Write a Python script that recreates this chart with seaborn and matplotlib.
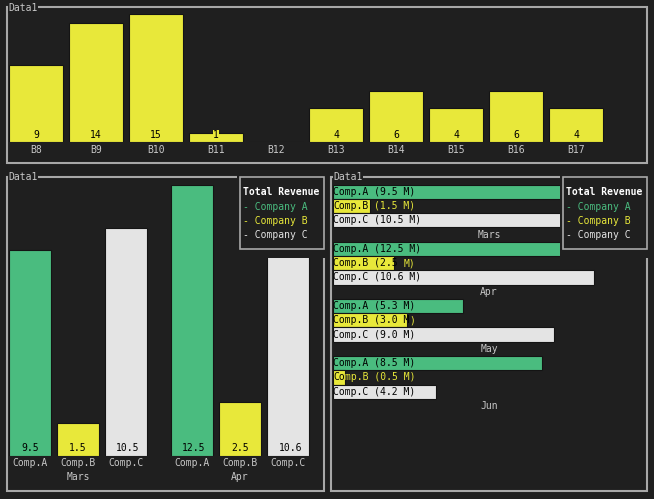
import matplotlib
matplotlib.use("Agg")
import matplotlib.pyplot as plt
import matplotlib.transforms as mtransforms
from matplotlib.patches import Rectangle
import seaborn as sns
import pandas as pd

# top chart
top_labels = ["B8", "B9", "B10", "B11", "B12", "B13", "B14", "B15", "B16", "B17"]
top_values = [9, 14, 15, 1, 0, 4, 6, 4, 6, 4]

# revenue charts (millions)
months = ["Mars", "Apr", "May", "Jun"]
companies = ["A", "B", "C"]
comp_a = [9.5, 12.5, 5.3, 8.5]
comp_b = [1.5, 2.5, 3.0, 0.5]
comp_c = [10.5, 10.6, 9.0, 4.2]

legend_title = "Total Revenue"
legend_items = ["Company A", "Company B", "Company C"]
panel_title = "Data1"

BG = "#1f1f1f"
BORDER = "#a8a8a8"
TXT = "#c8c8c8"
EDGE = "#141414"
YELLOW = "#e8e83a"
GREEN = "#4abc7f"
WHITE = "#e4e4e4"
colors = {"A": GREEN, "B": YELLOW, "C": WHITE}

W, H = 654, 499
FS = 7

sns.set_theme(style="dark")
plt.rcParams["font.family"] = ["DejaVu Sans Mono"]
plt.rcParams["font.size"] = FS

rows = []
for i, m in enumerate(months):
    for c, vals in zip(companies, [comp_a, comp_b, comp_c]):
        rows.append({"month": m, "company": c, "value": vals[i]})
df = pd.DataFrame(rows)

fig = plt.figure(figsize=(W / 100, H / 100), dpi=100, facecolor=BG)


def px_axes(x0, y0, x1, y1):
    return fig.add_axes([x0 / W, 1 - y1 / H, (x1 - x0) / W, (y1 - y0) / H])


def clean(ax):
    ax.set_facecolor("none")
    for s in ax.spines.values():
        s.set_visible(False)
    ax.grid(False)
    ax.set_xlabel("")
    ax.set_ylabel("")


# ---- top bar chart
ax1 = px_axes(6, 14, 606, 142)
sns.barplot(x=top_labels, y=top_values, color=YELLOW, saturation=1, width=0.9,
            edgecolor=EDGE, linewidth=0.8, ax=ax1)
clean(ax1)
ax1.set_xlim(-0.5, 9.5)
ax1.set_ylim(0, 15)
ax1.set_yticks([])
ax1.tick_params(axis="x", length=0, pad=2.5, colors=TXT, labelsize=FS)
for i, v in enumerate(top_values):
    if v:
        ax1.annotate(str(v), (i, 0), xytext=(0, 5.4), textcoords="offset points",
                     ha="center", va="center", color="black",
                     bbox=dict(boxstyle="square,pad=0", fc=YELLOW, ec="none"))

# ---- bottom left: grouped vertical bars
left_df = df[df["month"].isin(months[:2])]
ax2 = px_axes(6, 185, 323, 455.7)
sns.barplot(data=left_df, x="month", y="value", hue="company", order=months[:2],
            hue_order=companies, palette=colors, saturation=1, width=0.889, gap=0.125,
            edgecolor=EDGE, linewidth=0.8, legend=False, ax=ax2)
clean(ax2)
ax2.set_xlim(-0.444, 1.512)
ax2.set_ylim(0, 12.5)
ax2.set_xticks([])
ax2.set_yticks([])
for c, cont in zip(companies, ax2.containers):
    for bar, v in zip(cont, cont.datavalues):
        xc = bar.get_x() + bar.get_width() / 2
        lab = f"{v:.1f}"
        # ratatui-style: labels of 4 chars shift half a cell to the right
        dx = 1.5 if len(lab) > 3 else 0
        ax2.annotate(lab, (xc, 0), xytext=(dx, 5.4), textcoords="offset points",
                     ha="center", va="center", color="black")
        ax2.annotate(f"Comp.{c}", (xc, 0), xytext=(0, -5.6), textcoords="offset points",
                     ha="center", va="center", color=TXT, annotation_clip=False)
for i, m in enumerate(months[:2]):
    ax2.annotate(m, (i, 0), xytext=(0, -15.4), textcoords="offset points",
                 ha="center", va="center", color=TXT, annotation_clip=False)

# ---- bottom right: grouped horizontal bars
ax3 = px_axes(333, 184.5, 645, 489)
sns.barplot(data=df, y="month", x="value", hue="company", order=months,
            hue_order=companies, orient="h", palette=colors, saturation=1, width=0.75,
            gap=0, edgecolor=EDGE, linewidth=0.8, legend=False, ax=ax3)
clean(ax3)
ax3.set_xlim(0, 312 / 24.6)
ax3.set_ylim(4.95, -0.375)
ax3.set_xticks([])
ax3.set_yticks([])

char_px = FS * 100 / 72 * 0.6021
for c, cont in zip(companies, ax3.containers):
    col = colors[c]
    for bar, v in zip(cont, cont.datavalues):
        yc = bar.get_y() + bar.get_height() / 2
        s = f"Comp.{c} ({v:.1f} M)"
        bar_px = ax3.transData.transform((v, 0))[0] - ax3.transData.transform((0, 0))[0]
        n = min(len(s), int(bar_px / char_px + 0.5))
        inside, outside = s[:n], s[n:]
        if inside.strip():
            ax3.text(0, yc, inside, ha="left", va="center", color="black", zorder=4)
        lead = len(outside) - len(outside.lstrip())
        if outside.strip():
            ax3.annotate(outside.lstrip(), (0, yc),
                         xytext=((n + lead) * char_px * 0.72, 0), textcoords="offset points",
                         ha="left", va="center", color=col, zorder=4)
blend = mtransforms.blended_transform_factory(ax3.transAxes, ax3.transData)
for i, m in enumerate(months):
    ax3.text(0.5, i + 0.5, m, transform=blend, ha="center", va="center", color=TXT)

# ---- overlay: panel borders, titles, legends
ov = fig.add_axes([0, 0, 1, 1])
ov.set_xlim(0, W)
ov.set_ylim(H, 0)
ov.axis("off")

for (x0, y0, x1, y1) in [(6.5, 7, 646.5, 163), (6.5, 177, 323.5, 491), (331, 177, 647, 491)]:
    ov.add_patch(Rectangle((x0, y0), x1 - x0, y1 - y0, fill=False, ec=BORDER, lw=1.5))
    ov.text(x0 + 2, y0 + 0.5, panel_title, ha="left", va="center", color=TXT,
            bbox=dict(boxstyle="square,pad=0.05", fc=BG, ec="none"))

for (cx0, cw, lx0) in [(237, 90, 240), (560, 94, 563)]:
    ov.add_patch(Rectangle((cx0, 172), cw, 85.5, fc=BG, ec="none"))
    ov.add_patch(Rectangle((lx0, 177), 84, 72, fill=False, ec=BORDER, lw=1.2))
    ov.text(lx0 + 3, 192, legend_title, ha="left", va="center", color="white",
            fontweight="bold")
    for k, (item, c) in enumerate(zip(legend_items, companies)):
        ov.text(lx0 + 3, 207 + k * 14.2, f"- {item}", ha="left", va="center",
                color=colors[c])

fig.savefig("out.png", dpi=100, facecolor=BG)
